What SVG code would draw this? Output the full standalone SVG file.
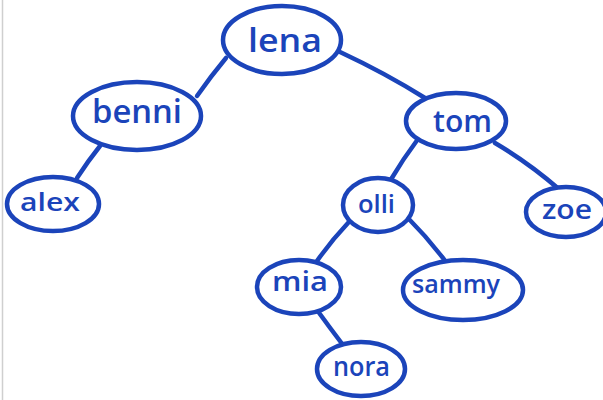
<svg xmlns="http://www.w3.org/2000/svg" width="603" height="400" viewBox="0 0 603 400">
  <style>
    .node ellipse { fill: #ffffff; stroke: #1b44ba; stroke-width: 4.5; }
    .node text { font-family: "Open Sans", "Noto Sans", sans-serif; font-weight: 600; fill: #1b44ba; text-anchor: start; }
    .edges path { fill: none; stroke: #1b44ba; stroke-width: 4.5; stroke-linecap: round; }
  </style>
  <rect x="0" y="0" width="603" height="400" fill="#ffffff"/>
  <line x1="2.5" y1="0" x2="2.5" y2="400" stroke="#cfcfcf" stroke-width="1.5"/>

  <g id="edges" class="edges">
    <path d="M226,58 Q211,76 197,96"/>
    <path d="M340,52 Q385,73 425,98"/>
    <path d="M100,146 Q88,161 77,178"/>
    <path d="M418,139 Q403,159 390,181"/>
    <path d="M495,143 Q529,163 560,190"/>
    <path d="M348,223 Q331,241 317,261"/>
    <path d="M407,217 Q428,238 446,262"/>
    <path d="M317,310 Q330,328 343,345"/>
  </g>

  <g id="lena" class="node">
    <ellipse cx="282" cy="40" rx="59" ry="34"/>
    <text x="248" y="52" font-size="32" textLength="74" lengthAdjust="spacingAndGlyphs">lena</text>
  </g>
  <g id="benni" class="node">
    <ellipse cx="137" cy="116" rx="64" ry="34"/>
    <text x="92" y="123" font-size="32" textLength="90" lengthAdjust="spacingAndGlyphs">benni</text>
  </g>
  <g id="alex" class="node">
    <ellipse cx="53" cy="204" rx="46" ry="27"/>
    <text x="20" y="211" font-size="25" textLength="60" lengthAdjust="spacingAndGlyphs">alex</text>
  </g>
  <g id="tom" class="node">
    <ellipse cx="456" cy="121" rx="50" ry="28"/>
    <text x="433" y="132" font-size="30" textLength="59" lengthAdjust="spacingAndGlyphs">tom</text>
  </g>
  <g id="olli" class="node">
    <ellipse cx="378" cy="205" rx="35" ry="27"/>
    <text x="358" y="213" font-size="25" textLength="37" lengthAdjust="spacingAndGlyphs">olli</text>
  </g>
  <g id="zoe" class="node">
    <ellipse cx="566" cy="212" rx="40" ry="25"/>
    <text x="542" y="219" font-size="27" textLength="50" lengthAdjust="spacingAndGlyphs">zoe</text>
  </g>
  <g id="mia" class="node">
    <ellipse cx="299" cy="287" rx="42" ry="27"/>
    <text x="272" y="291" font-size="27" textLength="56" lengthAdjust="spacingAndGlyphs">mia</text>
  </g>
  <g id="sammy" class="node">
    <ellipse cx="463" cy="290" rx="60" ry="30"/>
    <text x="412" y="293" font-size="25" textLength="88" lengthAdjust="spacingAndGlyphs">sammy</text>
  </g>
  <g id="nora" class="node">
    <ellipse cx="361" cy="369" rx="44" ry="27"/>
    <text x="333" y="376" font-size="27" textLength="57" lengthAdjust="spacingAndGlyphs">nora</text>
  </g>
</svg>
